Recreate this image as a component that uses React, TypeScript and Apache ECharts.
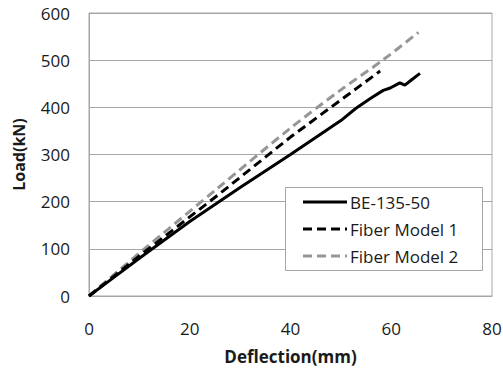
import React, { useEffect, useRef } from "react";
import * as echarts from "echarts";

const beDeflection = [0, 5, 10, 20, 30, 40, 50, 53, 56, 58.4, 59.8, 61.7, 62.7, 64, 65.7];
const beLoad = [0, 40, 80, 158, 230, 300, 372, 398, 420, 436, 441, 452, 447, 458, 472];
const fm1Deflection = [0, 10, 25.6, 40, 57.8];
const fm1Load = [0, 85, 214, 337, 477];
const fm2Deflection = [0, 10, 25.6, 40, 50, 58.3, 65.4];
const fm2Load = [0, 91, 229, 356, 437, 500, 559];
const seriesNames = ["BE-135-50", "Fiber Model 1", "Fiber Model 2"];
const seriesColors = ["#000000", "#000000", "#969696"];
const seriesDash: (number[] | null)[] = [null, [9, 5], [9, 5]];

const zip = (xs: number[], ys: number[]) => xs.map((x, i) => [x, ys[i]]);

export default function App() {
  const ref = useRef<HTMLDivElement>(null);
  useEffect(() => {
    if (!ref.current) return;
    const chart = echarts.init(ref.current, undefined, { renderer: "svg" });
    const font = "'Open Sans', sans-serif";
    const legendX = 285;
    const legendY = 187;
    const rowGap = 27;
    const legendGraphics: any[] = [
      {
        type: "rect",
        shape: { x: legendX + 0.5, y: legendY + 0.5, width: 197, height: 83 },
        style: { fill: "#ffffff", stroke: "#a6a6a6", lineWidth: 1 },
        z: 10,
      },
    ];
    seriesNames.forEach((name, i) => {
      const y = legendY + 15 + i * rowGap;
      legendGraphics.push({
        type: "line",
        shape: { x1: legendX + 18, y1: y, x2: legendX + 62, y2: y },
        style: {
          stroke: seriesColors[i],
          lineWidth: 3,
          lineDash: seriesDash[i] || undefined,
        },
        z: 11,
      });
      legendGraphics.push({
        type: "text",
        x: legendX + 65,
        y,
        style: {
          text: name,
          fontFamily: font,
          fontSize: 17,
          fill: "#1a1a1a",
          verticalAlign: "middle",
          align: "left",
        },
        z: 11,
      });
    });
    chart.setOption({
      animation: false,
      backgroundColor: "#ffffff",
      grid: {
        left: 89,
        right: 11,
        top: 13,
        bottom: 72,
        show: true,
        borderColor: "#a6a6a6",
        borderWidth: 1,
        containLabel: false,
        outerBoundsMode: "none",
      },
      graphic: legendGraphics,
      xAxis: {
        type: "value",
        min: 0,
        max: 80,
        interval: 20,
        name: "Deflection(mm)",
        nameLocation: "middle",
        nameGap: 52,
        nameTextStyle: { fontFamily: font, fontSize: 17, fontWeight: "bold", color: "#1a1a1a" },
        axisLine: { show: true, lineStyle: { color: "#a6a6a6" } },
        axisTick: { show: false },
        splitLine: { show: false },
        axisLabel: { fontFamily: font, fontSize: 17, color: "#1a1a1a", margin: 24 },
      },
      yAxis: {
        type: "value",
        min: 0,
        max: 600,
        interval: 100,
        name: "Load(kN)",
        nameLocation: "middle",
        nameGap: 62,
        nameTextStyle: { fontFamily: font, fontSize: 16, fontWeight: "bold", color: "#1a1a1a" },
        axisLine: { show: true, lineStyle: { color: "#a6a6a6" } },
        axisTick: { show: false },
        splitLine: { show: true, lineStyle: { color: "#a6a6a6", width: 1 } },
        axisLabel: { fontFamily: font, fontSize: 17, color: "#1a1a1a", margin: 19 },
      },
      series: [
        {
          name: seriesNames[0],
          type: "line",
          data: zip(beDeflection, beLoad),
          symbol: "none",
          z: 5,
          lineStyle: { color: seriesColors[0], width: 3, type: "solid" },
        },
        {
          name: seriesNames[1],
          type: "line",
          data: zip(fm1Deflection, fm1Load),
          symbol: "none",
          z: 4,
          lineStyle: { color: seriesColors[1], width: 3, type: seriesDash[1] },
        },
        {
          name: seriesNames[2],
          type: "line",
          data: zip(fm2Deflection, fm2Load),
          symbol: "none",
          smooth: 0.3,
          z: 3,
          lineStyle: { color: seriesColors[2], width: 3, type: seriesDash[2] },
        },
      ],
    });
    return () => chart.dispose();
  }, []);
  return <div ref={ref} style={{ width: 503, height: 368, position: "absolute", left: 0, top: 0 }} />;
}
